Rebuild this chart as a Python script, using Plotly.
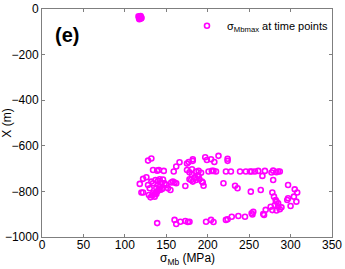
import plotly.graph_objects as go

# sigma_Mb (MPa) and X (m) values
sigma_mb = [
    # cluster near top
    116.5, 117.5, 118.5, 119.5, 117.0, 118.0, 119.0, 120.0, 117.5, 118.5, 119.5, 118.0,
    # upper row
    128, 132, 166, 175, 177, 182, 182, 197, 199, 204, 208, 213, 224, 224,
    # row near -710
    134, 139, 141, 147, 159, 162, 175, 178, 181, 186, 189, 192,
    201, 205, 207, 210, 222, 228, 239, 246, 251, 253, 257, 261, 269,
    266, 277, 279, 283, 285, 287, 279,
    # left middle cluster
    118, 122, 126, 120, 122, 128, 130, 132, 134,
    129, 131, 134, 136, 138, 137, 140, 142, 144, 146, 148, 150,
    140, 142, 143, 138, 141, 145, 139, 136, 133,
    152, 155, 156, 158, 160, 162, 173,
    178, 180, 182, 184, 186, 188, 190, 193, 194, 195, 181, 185, 189,
    219, 233, 236, 252, 264, 278,
    # right arc
    280, 282, 283, 285, 281, 285, 289, 287, 283, 296, 297, 300,
    297, 305, 304, 307, 308, 276, 278, 270, 268, 267,
    255, 253, 254, 245, 237, 229, 224, 222,
    # bottom row
    139, 160, 162, 167, 173, 176, 178, 198, 204, 207,
]
x_pos = [
    -32, -35, -38, -36, -40, -43, -31, -39, -45, -33, -42, -37,
    -665, -656, -672, -678, -671, -659, -666, -650, -662, -659, -671, -644, -657, -666,
    -706, -709, -706, -710, -713, -691, -706, -716, -703, -713, -710, -718,
    -713, -710, -710, -713, -713, -713, -713, -713, -713, -713, -713, -710, -710,
    -732, -717, -709, -716, -713, -713, -750,
    -767, -745, -738, -805, -805, -772, -786, -757, -764,
    -816, -826, -808, -823, -811, -750, -754, -747, -762, -748, -765, -772,
    -772, -780, -793, -785, -795, -790, -800, -812, -818,
    -786, -794, -761, -757, -761, -764, -776,
    -747, -750, -757, -738, -750, -731, -747, -757, -761, -775, -726, -740, -733,
    -764, -775, -786, -801, -794, -805,
    -823, -838, -845, -852, -860, -866, -870, -878, -884, -838, -830, -864,
    -772, -791, -823, -845, -805, -867, -882, -881, -903, -899,
    -889, -896, -901, -911, -908, -911, -922, -925,
    -939, -925, -943, -933, -930, -934, -933, -933, -925, -934,
]

FONT = "Arial, Liberation Sans"

fig = go.Figure()
fig.add_trace(go.Scatter(
    x=sigma_mb, y=x_pos, mode="markers",
    name="σ<sub>Mbmax</sub> at time points",
    marker=dict(symbol="circle-open", size=5, color="#FF00FF",
                line=dict(width=1.6, color="#FF00FF")),
))

axis_common = dict(
    showline=True, mirror="ticks", linecolor="#7f7f7f", linewidth=1,
    ticks="inside", ticklen=3, tickcolor="#7f7f7f",
    showgrid=False, zeroline=False, automargin=False,
    tickfont=dict(family=FONT, size=12, color="black"),
)
fig.update_xaxes(range=[0, 350], tickvals=[0, 50, 100, 150, 200, 250, 300, 350],
                 ticklabelstandoff=-3, **axis_common)
fig.update_yaxes(range=[-1000, 0], tickvals=[-1000, -800, -600, -400, -200, 0],
                 title=dict(text="X (m)", standoff=2,
                            font=dict(family=FONT, size=12, color="black")),
                 **axis_common)

# x-axis title placed as an annotation so it sits just below the tick labels
fig.add_annotation(text="σ<sub>Mb</sub> (MPa)", x=0.5, y=-0.142, xref="paper", yref="paper",
                   showarrow=False, xanchor="center", yanchor="bottom",
                   font=dict(family=FONT, size=12, color="black"))

fig.add_annotation(text="<b>(e)</b>", x=0.086, y=0.886, xref="paper", yref="paper",
                   showarrow=False, xanchor="center", yanchor="middle",
                   font=dict(family=FONT, size=20, color="black"))

fig.update_layout(
    width=345, height=269,
    margin=dict(l=42, r=13, t=9, b=32, autoexpand=False),
    paper_bgcolor="white", plot_bgcolor="white",
    showlegend=True,
    legend=dict(x=0.50, y=0.99, xanchor="left", yanchor="top",
                bgcolor="rgba(0,0,0,0)", borderwidth=0,
                font=dict(family=FONT, size=11, color="black"),
                itemwidth=30),
)

fig.write_html("out.html", config={"displayModeBar": False},
               post_script="document.body.style.margin='0';document.body.style.overflow='hidden';")
